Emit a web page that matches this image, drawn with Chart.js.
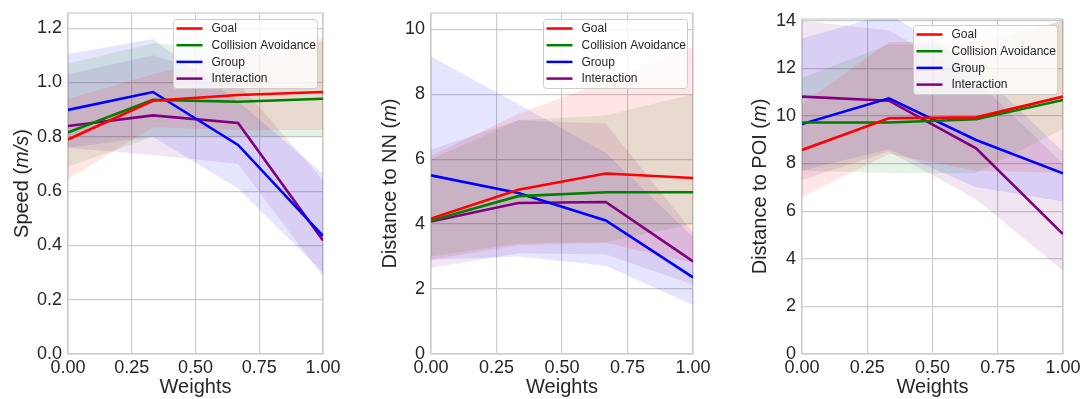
<!DOCTYPE html>
<html>
<head>
<meta charset="utf-8">
<script src="https://cdn.jsdelivr.net/npm/chart.js@4.4.1/dist/chart.umd.min.js"></script>
<style>
  html, body { margin: 0; padding: 0; background: #fff; }
  #wrap { position: relative; width: 1089px; height: 399px; overflow: hidden; }
  .panel { position: absolute; top: 0; }
</style>
</head>
<body>
<div id="wrap">
  <canvas id="speed" class="panel" width="345" height="399" style="left:0px"></canvas>
  <canvas id="nn" class="panel" width="375" height="399" style="left:345px"></canvas>
  <canvas id="poi" class="panel" width="369" height="399" style="left:720px"></canvas>
</div>
<script>
// x positions of the runs
var weights = [0, 0.333, 0.667, 1];
var names = ['Goal', 'Collision Avoidance', 'Group', 'Interaction'];
var colors = ['#ff0000', '#008000', '#0000ff', '#800080'];
var bands = ['rgba(255,0,0,0.1)', 'rgba(0,128,0,0.1)', 'rgba(0,0,255,0.1)', 'rgba(128,0,128,0.1)'];

// speed (m/s): mean, lower, upper
var speedGoal = [0.79, 0.933, 0.954, 0.965];
var speedGoalLow = [0.645, 0.835, 0.825, 0.825];
var speedGoalHigh = [0.94, 1.03, 1.10, 1.165];
var speedAvoid = [0.816, 0.936, 0.929, 0.94];
var speedAvoidLow = [0.69, 0.80, 0.80, 0.80];
var speedAvoidHigh = [1.07, 1.145, 1.12, 1.15];
var speedGroup = [0.899, 0.965, 0.77, 0.435];
var speedGroupLow = [0.76, 0.80, 0.61, 0.30];
var speedGroupHigh = [1.105, 1.16, 0.93, 0.665];
var speedInter = [0.84, 0.879, 0.851, 0.418];
var speedInterLow = [0.76, 0.733, 0.70, 0.285];
var speedInterHigh = [1.03, 1.10, 1.00, 0.64];

// distance to nearest neighbour (m)
var nnGoal = [4.17, 5.06, 5.56, 5.42];
var nnGoalLow = [2.9, 3.35, 3.42, 2.8];
var nnGoalHigh = [6.1, 7.4, 8.4, 9.45];
var nnAvoid = [4.11, 4.86, 4.98, 4.98];
var nnAvoidLow = [3.0, 3.4, 3.45, 4.0];
var nnAvoidHigh = [6.0, 7.2, 7.35, 8.0];
var nnGroup = [5.5, 4.96, 4.11, 2.36];
var nnGroupLow = [2.9, 3.0, 2.72, 1.51];
var nnGroupHigh = [9.16, 7.7, 6.2, 3.6];
var nnInter = [4.08, 4.65, 4.68, 2.85];
var nnInterLow = [2.65, 3.1, 3.06, 2.13];
var nnInterHigh = [6.3, 7.2, 7.1, 3.75];

// distance to point of interest (m)
var poiGoal = [8.57, 9.9, 9.94, 10.81];
var poiGoalLow = [6.6, 8.4, 7.7, 7.6];
var poiGoalHigh = [10.5, 13.1, 13.1, 14.0];
var poiAvoid = [9.72, 9.72, 9.86, 10.67];
var poiAvoidLow = [7.7, 7.6, 7.6, 9.45];
var poiAvoidHigh = [11.6, 13.0, 13.0, 14.0];
var poiGroup = [9.66, 10.74, 8.99, 7.59];
var poiGroupLow = [7.7, 8.6, 7.0, 6.4];
var poiGroupHigh = [13.25, 14.3, 12.0, 8.5];
var poiInter = [10.81, 10.64, 8.64, 5.04];
var poiInterLow = [7.3, 8.5, 6.5, 3.5];
var poiInterHigh = [14.0, 13.6, 11.5, 8.0];

var FONT = "'Liberation Sans', Arial, sans-serif";
var INK = '#262626';
var GRID = '#cccccc';

function toPts(arr) {
  return arr.map(function(v, i) { return {x: weights[i], y: v}; });
}

// legend box drawn inside the plot, upper right
var boxLegend = {
  id: 'boxLegend',
  afterDatasetsDraw: function(chart) {
    var ctx = chart.ctx, a = chart.chartArea;
    var w = 144, h = 69;
    var x = a.right - 6 - w, y = a.top + 6;
    ctx.save();
    ctx.fillStyle = 'rgba(255,255,255,0.8)';
    ctx.strokeStyle = GRID;
    ctx.lineWidth = 1;
    ctx.beginPath();
    ctx.roundRect(x + 0.5, y + 0.5, w, h, 3);
    ctx.fill();
    ctx.stroke();
    ctx.font = '12px ' + FONT;
    ctx.textBaseline = 'middle';
    for (var i = 0; i < 4; i++) {
      var ry = y + 9.5 + i * 16.7;
      ctx.strokeStyle = colors[i];
      ctx.lineWidth = 2.5;
      ctx.beginPath();
      ctx.moveTo(x + 3.5, ry);
      ctx.lineTo(x + 29.5, ry);
      ctx.stroke();
      ctx.fillStyle = INK;
      ctx.fillText(names[i], x + 38.5, ry + 0.5);
    }
    ctx.restore();
  }
};

// frame + y title with italic unit
var frameAndTitle = {
  id: 'frameAndTitle',
  beforeDatasetsDraw: function(chart) {
    var ctx = chart.ctx, a = chart.chartArea;
    ctx.save();
    ctx.strokeStyle = GRID;
    ctx.lineWidth = 1.2;
    ctx.strokeRect(a.left, a.top, a.right - a.left, a.bottom - a.top);
    ctx.restore();
  },
  afterDraw: function(chart) {
    var o = chart.options.plugins.frameAndTitle;
    var ctx = chart.ctx, a = chart.chartArea;
    ctx.save();
    var parts = o.parts;
    var total = 0;
    parts.forEach(function(p) {
      ctx.font = (p[1] ? 'italic ' : '') + '20px ' + FONT;
      p.w = ctx.measureText(p[0]).width;
      total += p.w;
    });
    ctx.translate(o.x, (a.top + a.bottom) / 2);
    ctx.rotate(-Math.PI / 2);
    ctx.fillStyle = INK;
    ctx.textBaseline = 'middle';
    var cx = -total / 2;
    parts.forEach(function(p) {
      ctx.font = (p[1] ? 'italic ' : '') + '20px ' + FONT;
      ctx.fillText(p[0], cx, 0);
      cx += p.w;
    });
    ctx.restore();
  }
};

function makePanel(id, means, lows, highs, yMax, yStep, yDec, axisW, pad, titleParts, titleX) {
  var ds = [];
  for (var i = 0; i < 4; i++) {
    ds.push({
      label: names[i], data: toPts(means[i]), borderColor: colors[i],
      borderWidth: 2.6, pointRadius: 0, fill: false, tension: 0
    });
  }
  for (var k = 0; k < 4; k++) {
    var lowIdx = ds.length;
    ds.push({label: '', data: toPts(lows[k]), borderWidth: 0, borderColor: 'transparent',
             pointRadius: 0, fill: false});
    ds.push({label: '', data: toPts(highs[k]), borderWidth: 0, borderColor: 'transparent',
             pointRadius: 0, fill: lowIdx, backgroundColor: bands[k]});
  }
  return new Chart(document.getElementById(id), {
    type: 'line',
    data: {datasets: ds},
    plugins: [frameAndTitle, boxLegend],
    options: {
      responsive: false,
      animation: false,
      layout: {padding: {left: 0, right: pad.right, top: pad.top, bottom: 0}},
      plugins: {
        legend: {display: false},
        tooltip: {enabled: false},
        frameAndTitle: {parts: titleParts, x: titleX}
      },
      scales: {
        x: {
          type: 'linear', min: 0, max: 1,
          afterFit: function(s) { s.height = 45; s.paddingLeft = 0; s.paddingRight = 0; },
          grid: {color: GRID, lineWidth: 1.2, drawTicks: false},
          border: {display: false},
          ticks: {stepSize: 0.25, padding: 3, color: INK, font: {family: FONT, size: 18},
                  maxRotation: 0, callback: function(v) { return v.toFixed(2); }},
          title: {display: true, text: 'Weights', color: INK, font: {family: FONT, size: 20},
                  padding: {top: 0, bottom: 0}}
        },
        y: {
          min: 0, max: yMax,
          afterFit: function(s) { s.width = axisW; s.paddingTop = 0; s.paddingBottom = 0; },
          grid: {color: GRID, lineWidth: 1.2, drawTicks: false},
          border: {display: false},
          ticks: {stepSize: yStep, includeBounds: false, padding: 6, color: INK,
                  font: {family: FONT, size: 18},
                  callback: function(v) { return v.toFixed(yDec); }}
        }
      }
    }
  });
}

makePanel('speed',
  [speedGoal, speedAvoid, speedGroup, speedInter],
  [speedGoalLow, speedAvoidLow, speedGroupLow, speedInterLow],
  [speedGoalHigh, speedAvoidHigh, speedGroupHigh, speedInterHigh],
  1.256, 0.2, 1, 68, {right: 22, top: 13},
  [['Speed (', false], ['m/s', true], [')', false]], 22);

makePanel('nn',
  [nnGoal, nnAvoid, nnGroup, nnInter],
  [nnGoalLow, nnAvoidLow, nnGroupLow, nnInterLow],
  [nnGoalHigh, nnAvoidHigh, nnGroupHigh, nnInterHigh],
  10.5, 2, 0, 86, {right: 27, top: 13},
  [['Distance to NN (', false], ['m', true], [')', false]], 45);

makePanel('poi',
  [poiGoal, poiAvoid, poiGroup, poiInter],
  [poiGoalLow, poiAvoidLow, poiGroupLow, poiInterLow],
  [poiGoalHigh, poiAvoidHigh, poiGroupHigh, poiInterHigh],
  14.07, 2, 0, 82, {right: 26, top: 19},
  [['Distance to POI (', false], ['m', true], [')', false]], 40);
</script>
</body>
</html>
